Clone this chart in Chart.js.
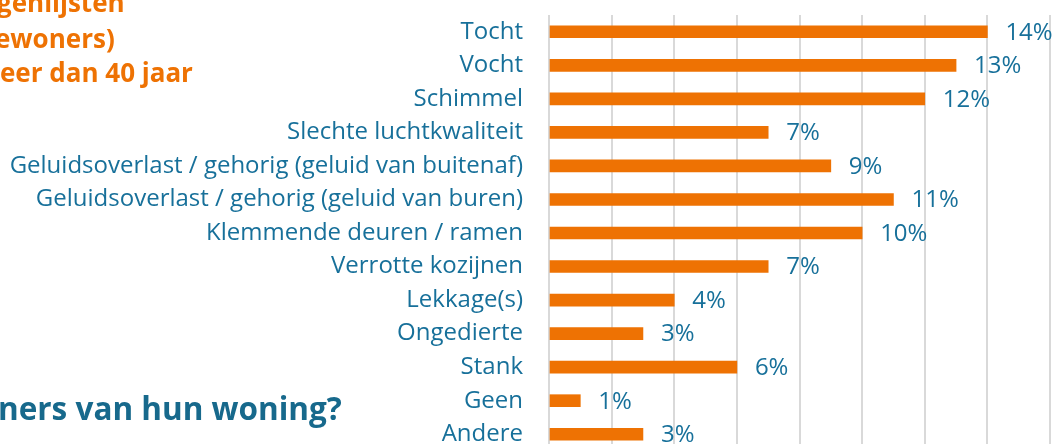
<!DOCTYPE html>
<html>
<head>
<meta charset="utf-8">
<script src="https://cdn.jsdelivr.net/npm/chart.js@4/dist/chart.umd.min.js"></script>
<style>
  html, body { margin: 0; padding: 0; background: #fff; overflow: hidden; }
  #wrap { position: relative; width: 1054px; height: 451px; }
  .note { position: absolute; white-space: nowrap; font-family: "Open Sans", sans-serif; font-weight: bold; line-height: 1; }
  .orange { color: #ee7203; font-size: 26px; }
  .teal { color: #17698c; font-size: 31.5px; }
</style>
</head>
<body>
<div id="wrap">
  <canvas id="bar-chart" width="1054" height="451"></canvas>
  <div class="note orange" style="left:-3px; top:-11px;">genlijsten</div>
  <div class="note orange" style="left:-5px; top:25px;">ewoners)</div>
  <div class="note orange" style="left:0px; top:59px;">eer dan 40 jaar</div>
  <div class="note teal" style="left:-2px; top:392px;">ners van hun woning?</div>
</div>
<script>
const labels = ["Tocht", "Vocht", "Schimmel", "Slechte luchtkwaliteit", "Geluidsoverlast / gehorig (geluid van buitenaf)", "Geluidsoverlast / gehorig (geluid van buren)", "Klemmende deuren / ramen", "Verrotte kozijnen", "Lekkage(s)", "Ongedierte", "Stank", "Geen", "Andere"]
const values = [14, 13, 12, 7, 9, 11, 10, 7, 4, 3, 6, 1, 3]
const gridTicks = [0, 2, 4, 6, 8, 10, 12, 14, 16]

// percent labels to the right of each bar
const valueLabels = {
    id: 'valueLabels',
    afterDatasetsDraw(chart) {
        const ctx = chart.ctx
        const meta = chart.getDatasetMeta(0)
        ctx.save()
        ctx.font = '24px "Open Sans"'
        ctx.fillStyle = '#17709a'
        ctx.textAlign = 'left'
        ctx.textBaseline = 'middle'
        meta.data.forEach((bar, i) => {
            ctx.fillText(values[i] + '%', bar.x + 18, bar.y + 1)
        })
        ctx.restore()
    }
}

const ctx = document.getElementById('bar-chart')

new Chart(ctx, {
    type: 'bar',
    data: {
        labels: labels,
        datasets: [{
            data: values,
            backgroundColor: '#ee7203',
            barThickness: 12
        }]
    },
    options: {
        indexAxis: 'y',
        responsive: false,
        animation: false,
        layout: { padding: { top: 15, right: 4, bottom: 0, left: 0 } },
        plugins: {
            legend: { display: false },
            tooltip: { enabled: false }
        },
        scales: {
            x: {
                min: 0,
                max: 16,
                afterBuildTicks: scale => { scale.ticks = gridTicks.map(v => ({ value: v })) },
                ticks: { display: false },
                grid: { color: '#d9d9d9', lineWidth: 2, drawTicks: false },
                border: { display: false }
            },
            y: {
                afterFit: scale => {
                    scale.width = 549
                    scale.paddingTop = 0
                    scale.paddingBottom = 0
                },
                ticks: {
                    color: '#17709a',
                    font: { family: '"Open Sans"', size: 24 },
                    padding: 26,
                    autoSkip: false
                },
                grid: { display: false, drawTicks: false },
                border: { display: false }
            }
        }
    },
    plugins: [valueLabels]
})
</script>
</body>
</html>
